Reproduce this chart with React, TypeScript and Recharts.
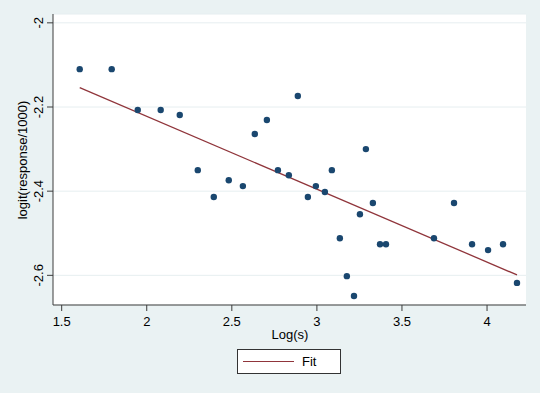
import React from 'react';
import { ComposedChart, Scatter, Line, XAxis, YAxis, CartesianGrid } from 'recharts';

const logS = [
  1.606, 1.794, 1.947, 2.082, 2.194, 2.3, 2.394, 2.482, 2.565, 2.635, 2.706,
  2.771, 2.835, 2.888, 2.947, 2.994, 3.047, 3.088, 3.135, 3.176, 3.218, 3.253,
  3.288, 3.329, 3.371, 3.406, 3.688, 3.806, 3.912, 4.006, 4.094, 4.176,
];
const logitResp = [
  -2.11, -2.11, -2.207, -2.207, -2.219, -2.35, -2.414, -2.374, -2.388, -2.264, -2.231,
  -2.35, -2.362, -2.174, -2.414, -2.388, -2.402, -2.35, -2.512, -2.602, -2.649, -2.455,
  -2.3, -2.428, -2.526, -2.526, -2.512, -2.428, -2.526, -2.54, -2.526, -2.618,
];

// fitted line endpoints
const fitX = [1.606, 4.176];
const fitY = [-2.154, -2.599];

const xTicks = [1.5, 2, 2.5, 3, 3.5, 4];
const yTicks = [-2, -2.2, -2.4, -2.6];

const points = logS.map((x, i) => ({ x, y: logitResp[i] }));
const fit = fitX.map((x, i) => ({ x, y: fitY[i] }));

const FONT = '"Liberation Sans", Arial, sans-serif';
const BG = '#eaf2f3';
const NAVY = '#1a476f';
const MAROON = '#90353b';
const AXIS = '#3c3c3c';

const YTick = (props: any) => {
  const { x, y, payload } = props;
  return (
    <text
      x={x}
      y={y}
      transform={`rotate(-90, ${x}, ${y})`}
      textAnchor="middle"
      fontSize={13}
      fontFamily={FONT}
      fill="#000"
    >
      {payload.value}
    </text>
  );
};

const Dot = (props: any) => <circle cx={props.cx} cy={props.cy} r={3.2} fill={NAVY} />;

export default function App() {
  return (
    <div style={{ position: 'absolute', left: 0, top: 0, width: 540, height: 393, background: BG, fontFamily: FONT }}>
      <ComposedChart width={540} height={393} margin={{ top: 14, right: 14, bottom: 58, left: 13 }}>
        <CartesianGrid horizontal vertical={false} stroke="#e6eef0" fill="#fff" />
        <XAxis
          type="number"
          dataKey="x"
          domain={[1.449, 4.229]}
          ticks={xTicks}
          allowDataOverflow
          height={30}
          tickSize={6}
          tickMargin={6}
          stroke={AXIS}
          tick={{ fontSize: 13, fill: '#000', fontFamily: FONT }}
        />
        <YAxis
          type="number"
          dataKey="y"
          domain={[-2.6705, -1.979]}
          ticks={yTicks}
          allowDataOverflow
          width={40}
          tickSize={6}
          tickMargin={3.5}
          stroke={AXIS}
          tick={<YTick />}
        />
        <Scatter data={points} fill={NAVY} shape={<Dot />} isAnimationActive={false} />
        <Line
          data={fit}
          dataKey="y"
          type="linear"
          stroke={MAROON}
          strokeWidth={1.3}
          dot={false}
          isAnimationActive={false}
        />
      </ComposedChart>
      <div
        style={{
          position: 'absolute', left: 23 - 100, top: 160 - 9, width: 200, height: 18,
          transform: 'rotate(-90deg)', textAlign: 'center', fontSize: 13, lineHeight: '18px',
        }}
      >
        logit(response/1000)
      </div>
      <div style={{ position: 'absolute', left: 240, top: 327, width: 100, textAlign: 'center', fontSize: 13, lineHeight: '16px' }}>
        Log(s)
      </div>
      <div
        style={{
          position: 'absolute', left: 237, top: 349, width: 102, height: 23,
          background: '#fff', border: '1px solid #333', display: 'flex', alignItems: 'center',
        }}
      >
        <div style={{ marginLeft: 5, width: 51, height: 0, borderTop: `1.3px solid ${MAROON}` }} />
        <span style={{ marginLeft: 8, fontSize: 13 }}>Fit</span>
      </div>
    </div>
  );
}
